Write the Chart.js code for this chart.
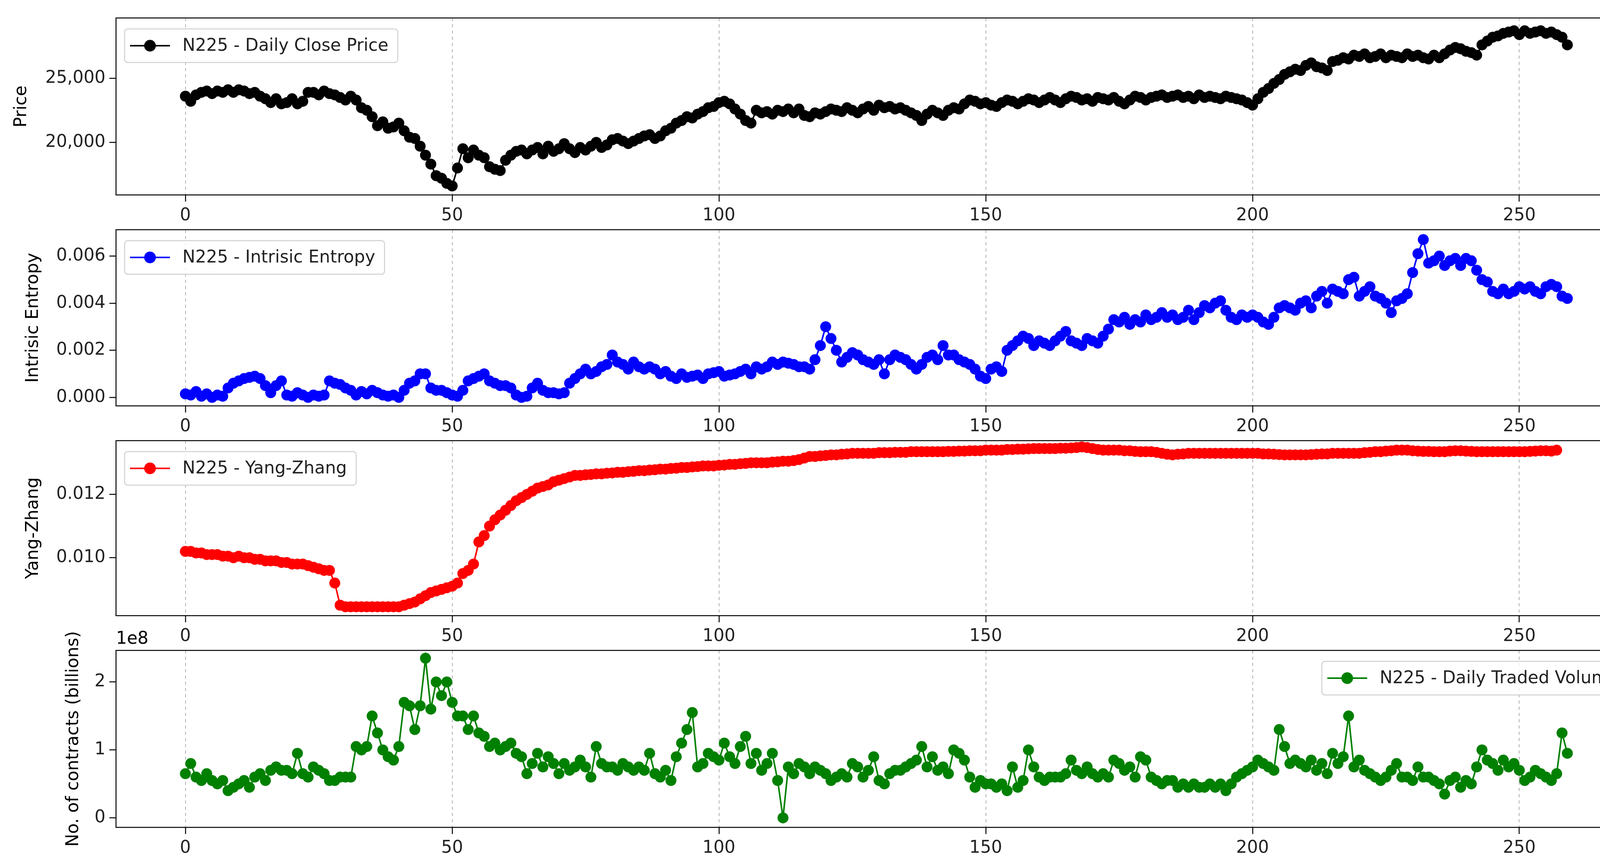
<!DOCTYPE html>
<html><head><meta charset="utf-8">
<script src="https://cdn.jsdelivr.net/npm/chart.js@4/dist/chart.umd.min.js"></script>
<style>
html,body{margin:0;padding:0;background:#fff;width:4231px;height:2222px;overflow:hidden}
canvas{position:absolute;left:0}
</style></head><body>
<canvas id="c1"></canvas><canvas id="c2"></canvas><canvas id="c3"></canvas><canvas id="c4"></canvas>
<script>
const days = Array.from({length:260},(_,i)=>i);
const xTicks = [0,50,100,150,200,250];

const closePrice = [23600,23200,23700,23900,24000,23800,24000,23900,24100,23900,24100,24000,23800,23900,23600,23400,23100,23400,23000,23100,23400,23000,23200,23900,23900,23700,24000,23800,23700,23500,23300,23600,23300,22700,22500,22000,21300,21600,21100,21200,21500,20900,20400,20300,19700,19000,18300,17400,17200,16800,16600,18000,19500,18800,19400,19000,18800,18100,17900,17800,18600,19000,19300,19400,19100,19400,19600,19100,19700,19300,19500,19900,19500,19200,19600,19400,19700,20000,19600,19800,20200,20300,20100,19900,20100,20300,20500,20600,20300,20500,20900,21100,21500,21700,22000,21900,22200,22400,22700,22800,23100,23200,23000,22600,22200,21700,21500,22500,22300,22400,22200,22500,22400,22600,22300,22600,22100,22000,22300,22200,22400,22600,22500,22400,22700,22500,22300,22600,22800,22500,22900,22700,22800,22600,22700,22500,22300,22100,21700,22200,22500,22300,22100,22500,22700,22600,23000,23300,23200,23000,23100,22900,22800,23100,23300,23200,23000,23200,23400,23300,23100,23300,23500,23300,23100,23400,23600,23500,23300,23400,23200,23500,23400,23300,23500,23200,23000,23300,23600,23500,23300,23500,23600,23700,23500,23600,23700,23500,23600,23400,23700,23500,23600,23500,23400,23600,23500,23400,23300,23100,22900,23400,23900,24200,24600,24900,25300,25500,25700,25600,26000,26200,25900,25800,25600,26300,26400,26600,26500,26800,26700,26900,26600,26700,26900,26600,26800,26700,26600,26900,26700,26800,26600,26500,26800,26600,26900,27200,27400,27300,27100,27000,26800,27600,27900,28200,28300,28500,28600,28700,28400,28700,28500,28600,28700,28500,28600,28400,28200,27600];

const entropy = [0.15,0.1,0.25,0.05,0.15,0.0,0.1,0.05,0.4,0.6,0.7,0.8,0.85,0.9,0.8,0.5,0.2,0.5,0.7,0.1,0.05,0.2,0.1,0.0,0.1,0.05,0.1,0.7,0.6,0.55,0.4,0.3,0.1,0.25,0.15,0.3,0.2,0.1,0.05,0.1,0.0,0.3,0.6,0.7,1.0,1.0,0.4,0.3,0.3,0.2,0.1,0.05,0.3,0.7,0.8,0.9,1.0,0.7,0.6,0.5,0.5,0.4,0.1,0.0,0.05,0.4,0.6,0.3,0.2,0.2,0.15,0.2,0.6,0.8,1.0,1.2,1.0,1.1,1.3,1.4,1.8,1.5,1.4,1.2,1.5,1.3,1.2,1.3,1.2,1.0,1.1,0.9,0.8,1.0,0.85,0.9,0.95,0.8,1.0,1.05,1.1,0.9,0.95,1.0,1.1,1.2,1.0,1.3,1.2,1.3,1.5,1.4,1.5,1.45,1.4,1.3,1.3,1.2,1.6,2.2,3.0,2.5,2.0,1.5,1.7,1.9,1.8,1.6,1.5,1.4,1.6,1.0,1.6,1.8,1.7,1.6,1.4,1.2,1.4,1.7,1.8,1.6,2.2,1.8,1.8,1.6,1.5,1.4,1.2,0.9,0.8,1.2,1.3,1.1,2.0,2.2,2.4,2.6,2.5,2.2,2.4,2.3,2.2,2.4,2.6,2.8,2.4,2.3,2.2,2.5,2.4,2.3,2.6,2.9,3.3,3.2,3.4,3.1,3.3,3.2,3.5,3.3,3.4,3.6,3.4,3.5,3.3,3.4,3.7,3.3,3.6,3.9,3.8,4.0,4.1,3.7,3.4,3.3,3.5,3.4,3.5,3.4,3.2,3.1,3.4,3.8,3.9,3.8,3.7,4.0,4.1,3.8,4.3,4.5,4.0,4.6,4.5,4.4,5.0,5.1,4.3,4.5,4.7,4.3,4.2,4.0,3.6,4.1,4.2,4.4,5.3,6.1,6.7,5.7,5.8,6.0,5.6,5.8,5.9,5.6,5.9,5.8,5.4,5.0,4.9,4.5,4.4,4.6,4.4,4.5,4.7,4.6,4.7,4.5,4.4,4.7,4.8,4.7,4.3,4.2].map(v=>v/1000);

const yangZhang = [10.2,10.2,10.15,10.15,10.1,10.1,10.1,10.05,10.05,10.0,10.05,10.0,10.0,9.95,9.95,9.9,9.9,9.9,9.85,9.85,9.8,9.8,9.8,9.75,9.7,9.65,9.6,9.6,9.2,8.5,8.45,8.45,8.45,8.45,8.45,8.45,8.45,8.45,8.45,8.45,8.45,8.5,8.55,8.6,8.7,8.8,8.9,8.95,9.0,9.05,9.1,9.2,9.5,9.6,9.8,10.5,10.7,11.0,11.2,11.35,11.5,11.65,11.8,11.9,12.0,12.1,12.2,12.25,12.3,12.4,12.45,12.5,12.55,12.6,12.6,12.62,12.63,12.65,12.65,12.67,12.68,12.7,12.7,12.72,12.73,12.75,12.75,12.77,12.78,12.8,12.8,12.82,12.83,12.85,12.85,12.87,12.88,12.9,12.9,12.9,12.92,12.93,12.95,12.95,12.97,12.98,13.0,13.0,13.0,13.0,13.02,13.03,13.05,13.05,13.07,13.1,13.15,13.2,13.2,13.22,13.23,13.25,13.25,13.27,13.28,13.3,13.3,13.3,13.3,13.3,13.32,13.32,13.32,13.33,13.33,13.33,13.35,13.35,13.35,13.35,13.35,13.35,13.35,13.36,13.36,13.37,13.37,13.38,13.38,13.38,13.4,13.4,13.4,13.4,13.42,13.42,13.43,13.43,13.44,13.45,13.45,13.45,13.45,13.45,13.46,13.46,13.47,13.48,13.5,13.48,13.45,13.42,13.4,13.4,13.4,13.4,13.38,13.38,13.36,13.35,13.35,13.35,13.33,13.3,13.27,13.25,13.27,13.28,13.3,13.3,13.3,13.3,13.3,13.3,13.3,13.3,13.3,13.3,13.3,13.3,13.3,13.3,13.28,13.28,13.27,13.26,13.25,13.25,13.25,13.25,13.25,13.26,13.27,13.28,13.28,13.3,13.3,13.3,13.3,13.3,13.3,13.32,13.33,13.35,13.35,13.37,13.38,13.4,13.4,13.4,13.38,13.37,13.36,13.36,13.35,13.35,13.35,13.37,13.38,13.38,13.37,13.36,13.35,13.35,13.35,13.35,13.35,13.35,13.35,13.35,13.35,13.35,13.36,13.37,13.38,13.38,13.37,13.4].map(v=>v/1000);

const volume = [0.65,0.8,0.6,0.55,0.65,0.55,0.5,0.55,0.4,0.45,0.5,0.55,0.45,0.6,0.65,0.55,0.7,0.75,0.7,0.7,0.65,0.95,0.65,0.6,0.75,0.7,0.65,0.55,0.55,0.6,0.6,0.6,1.05,1.0,1.05,1.5,1.25,1.0,0.9,0.85,1.05,1.7,1.65,1.3,1.65,2.35,1.6,2.0,1.8,2.0,1.7,1.5,1.5,1.3,1.5,1.25,1.2,1.05,1.1,1.0,1.05,1.1,0.95,0.9,0.65,0.8,0.95,0.75,0.9,0.8,0.65,0.8,0.7,0.75,0.85,0.75,0.6,1.05,0.8,0.75,0.75,0.7,0.8,0.75,0.7,0.75,0.7,0.95,0.65,0.6,0.7,0.55,0.9,1.1,1.3,1.55,0.75,0.8,0.95,0.9,0.85,1.1,0.9,0.8,1.05,1.2,0.8,0.95,0.7,0.8,0.95,0.55,0.0,0.75,0.65,0.8,0.75,0.65,0.75,0.7,0.65,0.55,0.6,0.65,0.6,0.8,0.75,0.6,0.7,0.9,0.55,0.5,0.65,0.7,0.7,0.75,0.8,0.85,1.05,0.75,0.9,0.7,0.75,0.65,1.0,0.95,0.85,0.6,0.45,0.55,0.5,0.5,0.45,0.5,0.4,0.75,0.45,0.55,1.0,0.75,0.6,0.55,0.6,0.6,0.6,0.65,0.85,0.7,0.65,0.75,0.65,0.6,0.65,0.6,0.85,0.8,0.7,0.75,0.6,0.9,0.85,0.6,0.55,0.5,0.55,0.55,0.45,0.5,0.45,0.5,0.45,0.45,0.5,0.45,0.5,0.4,0.5,0.6,0.65,0.7,0.75,0.85,0.8,0.75,0.7,1.3,1.05,0.8,0.85,0.8,0.75,0.85,0.7,0.8,0.65,0.95,0.8,0.9,1.5,0.75,0.85,0.7,0.65,0.6,0.55,0.6,0.7,0.8,0.6,0.6,0.55,0.75,0.6,0.6,0.55,0.5,0.35,0.55,0.6,0.45,0.55,0.5,0.75,1.0,0.85,0.8,0.7,0.85,0.75,0.8,0.7,0.55,0.6,0.7,0.65,0.6,0.55,0.65,1.25,0.95];

const priceTicks=[20000,25000], entTicks=[0,0.002,0.004,0.006], yzTicks=[0.010,0.012], volTicks=[0,1,2];

const FONT='DejaVu Sans', FS=44;
const W=4231, L=297, R=4190;
const panels=[
 {id:'c1',top:46,bot:499,data:closePrice,color:'#000000',label:'N225 - Daily Close Price',min:15900,max:29700,ticks:priceTicks,fmt:v=>v.toLocaleString('en-US'),title:'Price',tx:56,legend:'left'},
 {id:'c2',top:588,bot:1039,data:entropy,color:'#0000ff',label:'N225 - Intrisic Entropy',min:-0.00036,max:0.00712,ticks:entTicks,fmt:v=>v.toFixed(3),title:'Intrisic Entropy',tx:86,legend:'left'},
 {id:'c3',top:1128,bot:1576,data:yangZhang,color:'#ff0000',label:'N225 - Yang-Zhang',min:0.00817,max:0.0137,ticks:yzTicks,fmt:v=>v.toFixed(3),title:'Yang-Zhang',tx:86,legend:'left'},
 {id:'c4',top:1665,bot:2118,data:volume,color:'#008000',label:'N225 - Daily Traded Volume',min:-0.14,max:2.465,ticks:volTicks,fmt:v=>String(v),title:'No. of contracts (billions)',tx:189,legend:'right',offset:'1e8'}
];
const PADT=60, XH=100;
panels.forEach(p=>{
  const cv=document.getElementById(p.id);
  const h=(p.bot-p.top)+PADT+XH;
  cv.width=W; cv.height=h;
  cv.style.width=W+'px'; cv.style.height=h+'px'; cv.style.top=(p.top-PADT)+'px';
  const deco={id:'deco'+p.id,afterDraw(c){
    const ctx=c.ctx,a=c.chartArea;
    ctx.save();
    ctx.strokeStyle='#000';ctx.lineWidth=2.5;ctx.strokeRect(a.left,a.top,a.right-a.left,a.bottom-a.top);
    ctx.fillStyle='#000';ctx.font=FS+'px '+FONT;ctx.textAlign='center';ctx.textBaseline='middle';
    ctx.save();ctx.translate(p.tx,(a.top+a.bottom)/2);ctx.rotate(-Math.PI/2);ctx.fillText(p.title,0,0);ctx.restore();
    if(p.offset){ctx.textAlign='left';ctx.textBaseline='bottom';ctx.fillText(p.offset,L,a.top-6);}
    ctx.font=FS+'px '+FONT;
    const tw=ctx.measureText(p.label).width;
    const bw=tw+172,bh=86;
    const bx=p.legend==='left'?a.left+22:a.right-22-bw, by=a.top+28;
    ctx.fillStyle='rgba(255,255,255,0.8)';ctx.strokeStyle='#d0d0d0';ctx.lineWidth=2.5;
    ctx.beginPath();if(ctx.roundRect)ctx.roundRect(bx,by,bw,bh,8);else ctx.rect(bx,by,bw,bh);ctx.fill();ctx.stroke();
    const cy=by+bh/2;
    ctx.strokeStyle=p.color;ctx.lineWidth=4;ctx.beginPath();ctx.moveTo(bx+14,cy);ctx.lineTo(bx+116,cy);ctx.stroke();
    ctx.fillStyle=p.color;ctx.beginPath();ctx.arc(bx+65,cy,15,0,Math.PI*2);ctx.fill();
    ctx.fillStyle='#222';ctx.textAlign='left';ctx.textBaseline='middle';ctx.fillText(p.label,bx+148,cy+2);
    ctx.restore();
  }};
  new Chart(cv,{
    type:'line',
    data:{labels:days,datasets:[{label:p.label,data:days.map((x,i)=>({x,y:p.data[i]})),borderColor:p.color,backgroundColor:p.color,borderWidth:4,pointRadius:14,pointBorderWidth:0,pointBackgroundColor:p.color,tension:0}]},
    options:{responsive:false,devicePixelRatio:1,animation:false,
      layout:{padding:{top:PADT,right:W-R,left:0,bottom:0}},
      plugins:{legend:{display:false},tooltip:{enabled:false}},
      scales:{
        x:{type:'linear',min:-13,max:272,
          afterBuildTicks:s=>{s.ticks=xTicks.map(v=>({value:v}));},
          afterFit:s=>{s.height=XH;},
          border:{display:false,dash:[8,8]},
          grid:{color:'#b0b0b0',lineWidth:2,tickColor:'#000',tickLength:17,tickBorderDash:[],tickWidth:2.5},
          ticks:{color:'#222',font:{family:FONT,size:FS},maxRotation:0,padding:10,callback:v=>String(v)}},
        y:{type:'linear',min:p.min,max:p.max,
          afterBuildTicks:s=>{s.ticks=p.ticks.map(v=>({value:v}));},
          afterFit:s=>{s.width=L;},
          border:{display:false},
          grid:{drawOnChartArea:false,tickColor:'#000',tickLength:17,tickWidth:2.5},
          ticks:{color:'#222',font:{family:FONT,size:FS},padding:10,callback:v=>p.fmt(v)}}
      }},
    plugins:[deco]
  });
});
</script></body></html>
